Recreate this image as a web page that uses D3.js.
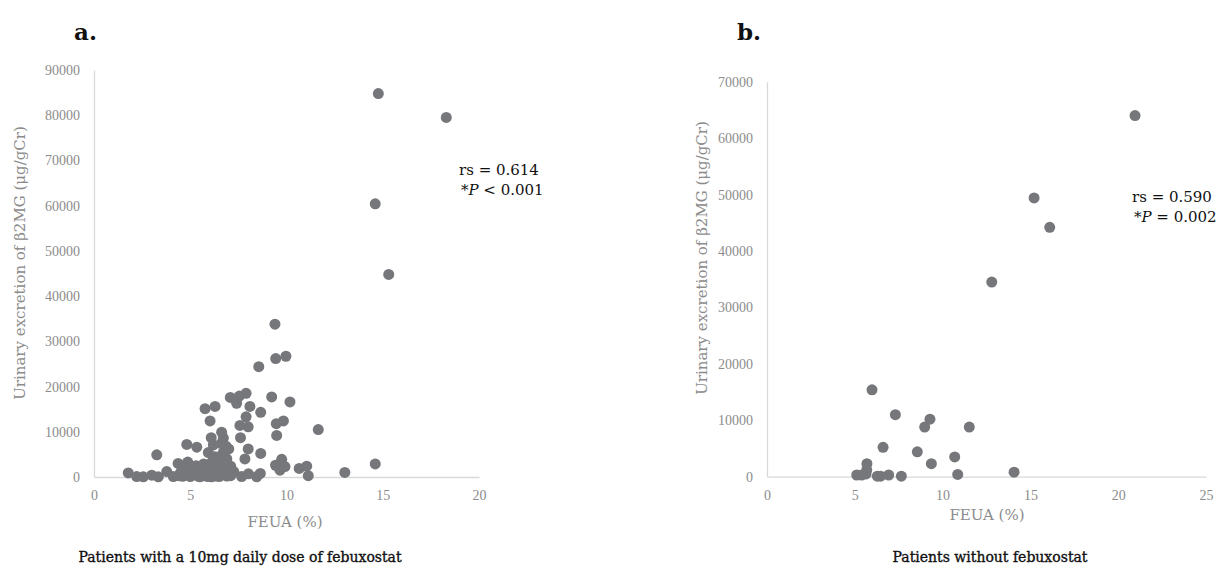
<!DOCTYPE html>
<html>
<head>
<meta charset="utf-8">
<script src="https://cdn.jsdelivr.net/npm/d3@7"></script>
<style>
  body { margin: 0; background: #fff; }
  svg text { font-family: "DejaVu Serif", "Liberation Serif", serif; }
</style>
</head>
<body>
<script>
// panel a: patients on febuxostat 10mg
var febuxFeua = [14.77, 18.30, 14.61, 15.31, 9.40, 9.44, 9.97, 8.56, 7.08, 7.55, 7.90, 7.41, 9.23, 10.18,
	8.10, 8.66, 5.77, 6.29, 6.03, 7.90, 7.58, 8.01, 9.47, 9.84, 9.49, 11.65, 6.63, 6.72, 6.09, 7.61,
	4.82, 5.34, 5.94, 6.20, 6.86, 8.01, 7.84, 8.66, 6.29, 3.26, 4.37, 4.87, 9.75, 9.43, 9.92, 9.66,
	10.66, 11.05, 11.13, 13.03, 14.61, 7.26, 7.67, 8.02, 8.64, 8.45, 1.78, 2.22, 2.56, 3.00, 3.34, 3.78,
	4.12, 4.4, 4.6, 4.7, 4.8, 4.9, 5.0, 5.1, 5.2, 5.3, 5.4, 5.5, 5.5, 5.6, 5.7, 5.7, 5.8, 5.9, 5.9,
	6.0, 6.0, 6.1, 6.1, 6.2, 6.2, 6.3, 6.3, 6.4, 6.4, 6.5, 6.5, 6.5, 6.6, 6.6, 6.7, 6.7, 6.8, 6.8, 6.9,
	6.9, 7.0, 7.0, 7.1, 7.1, 6.6, 6.9, 5.2, 4.5, 6.2, 5.8, 6.0];
var febuxB2mg = [84800, 79500, 60400, 44800, 33800, 26200, 26700, 24400, 17600, 17900, 18500, 16300, 17700, 16600,
	15600, 14300, 15100, 15600, 12400, 13300, 11400, 11100, 11800, 12400, 9200, 10500, 9900, 8600, 8700, 8700,
	7200, 6600, 5400, 7100, 6800, 6200, 4000, 5200, 4500, 4900, 3000, 3300, 3900, 2600, 2300, 1500,
	1900, 2400, 300, 1000, 2900, 1200, 100, 700, 800, 50, 900, 100, 50, 400, 50, 1200,
	100, 300, 150, 900, 2200, 400, 100, 1200, 600, 2500, 200, 1500, 50, 800, 2900, 300, 1800, 100, 1100,
	2400, 500, 3200, 50, 1600, 700, 2000, 200, 3500, 900, 100, 1400, 2700, 400, 4200, 1800, 5300, 800, 2900, 200,
	4000, 1200, 6200, 300, 2400, 7400, 3300, 2000, 1000, 3800, 600, 1500];

// panel b: patients without febuxostat
var noFebuxFeua = [20.96, 15.21, 16.10, 12.80, 5.98, 7.31, 9.28, 8.98, 11.52, 6.61, 8.56, 10.69, 9.36, 5.69,
	5.68, 5.11, 5.39, 5.64, 6.28, 6.47, 6.93, 7.65, 10.86, 14.07];
var noFebuxB2mg = [64000, 49400, 44200, 34500, 15400, 11000, 10200, 8800, 8800, 5200, 4400, 3500, 2300, 2300,
	1200, 300, 300, 500, 100, 100, 300, 100, 400, 800];

var aXTicks = [0, 5, 10, 15, 20];
var aYTicks = [0, 10000, 20000, 30000, 40000, 50000, 60000, 70000, 80000, 90000];
var bXTicks = [0, 5, 10, 15, 20, 25];
var bYTicks = [0, 10000, 20000, 30000, 40000, 50000, 60000, 70000];

var yTitle = "Urinary excretion of \u03B22MG (\u03BCg/gCr)";

var svg = d3.select("body")
	.append("svg")
	.attr("width", 1227)
	.attr("height", 569);

function panel(cfg) {
	var x = d3.scaleLinear().domain(cfg.xDomain).range([cfg.left, cfg.right]);
	var y = d3.scaleLinear().domain(cfg.yDomain).range([cfg.bottom, cfg.top]);

	var xAxis = svg.append("g")
		.attr("transform", "translate(0," + cfg.bottom + ")")
		.call(d3.axisBottom(x).tickValues(cfg.xTicks).tickSize(0).tickSizeOuter(0).tickPadding(13));
	var yAxis = svg.append("g")
		.attr("transform", "translate(" + cfg.left + ",0)")
		.call(d3.axisLeft(y).tickValues(cfg.yTicks).tickFormat(d3.format("d")).tickSize(0).tickSizeOuter(0).tickPadding(14));

	[xAxis, yAxis].forEach(function(g) {
		g.select(".domain").attr("stroke", "#d9d9d9").attr("stroke-width", 1.3);
		g.selectAll("text")
			.style("font-family", "'Liberation Serif', serif")
			.style("font-size", "14px")
			.attr("fill", "#8c8c8c");
	});

	svg.append("g").selectAll("circle")
		.data(cfg.xs)
		.enter()
		.append("circle")
		.attr("cx", function(d) { return x(d); })
		.attr("cy", function(d, i) { return y(cfg.ys[i]); })
		.attr("r", 5.5)
		.attr("fill", "#76777b");

	svg.append("text")
		.attr("x", cfg.letterX).attr("y", 40)
		.attr("font-size", 23).attr("font-weight", "bold").attr("fill", "#111")
		.text(cfg.letter);

	svg.append("text")
		.attr("transform", "translate(" + cfg.yTitleX + "," + cfg.yTitleY + ") rotate(-90)")
		.attr("text-anchor", "middle")
		.attr("font-size", 15).attr("fill", "#8c8c8c")
		.text(yTitle);

	svg.append("text")
		.attr("x", cfg.xTitleX).attr("y", cfg.xTitleY)
		.attr("text-anchor", "middle")
		.attr("font-size", 15).attr("fill", "#8c8c8c")
		.text("FEUA (%)");

	var note = svg.append("text")
		.attr("font-size", 15).attr("fill", "#111");
	note.append("tspan").attr("x", cfg.noteX).attr("y", cfg.noteY).text("rs = " + cfg.rs);
	var p = note.append("tspan").attr("x", cfg.noteX + 2).attr("y", cfg.noteY + 20);
	p.append("tspan").text("*");
	p.append("tspan").attr("font-style", "italic").text("P");
	p.append("tspan").text(" " + cfg.p);

	svg.append("text")
		.attr("x", cfg.subX).attr("y", 562)
		.attr("text-anchor", "middle")
		.attr("font-size", 14).attr("fill", "#111")
		.attr("stroke", "#111").attr("stroke-width", 0.35)
		.text(cfg.sub);
}

panel({
	xs: febuxFeua, ys: febuxB2mg,
	xDomain: [0, 20], yDomain: [0, 90000],
	xTicks: aXTicks, yTicks: aYTicks,
	left: 94, right: 479, top: 70, bottom: 477,
	letter: "a.", letterX: 74,
	yTitleX: 25, yTitleY: 263, xTitleX: 285, xTitleY: 527,
	noteX: 459, noteY: 175, rs: "0.614", p: "< 0.001",
	subX: 240, sub: "Patients with a 10mg daily dose of febuxostat"
});

panel({
	xs: noFebuxFeua, ys: noFebuxB2mg,
	xDomain: [0, 25], yDomain: [0, 70000],
	xTicks: bXTicks, yTicks: bYTicks,
	left: 767, right: 1206, top: 81.7, bottom: 476.7,
	letter: "b.", letterX: 737,
	yTitleX: 707, yTitleY: 258, xTitleX: 987, xTitleY: 520,
	noteX: 1132, noteY: 202, rs: "0.590", p: "= 0.002",
	subX: 990, sub: "Patients without febuxostat"
});
</script>
</body>
</html>
